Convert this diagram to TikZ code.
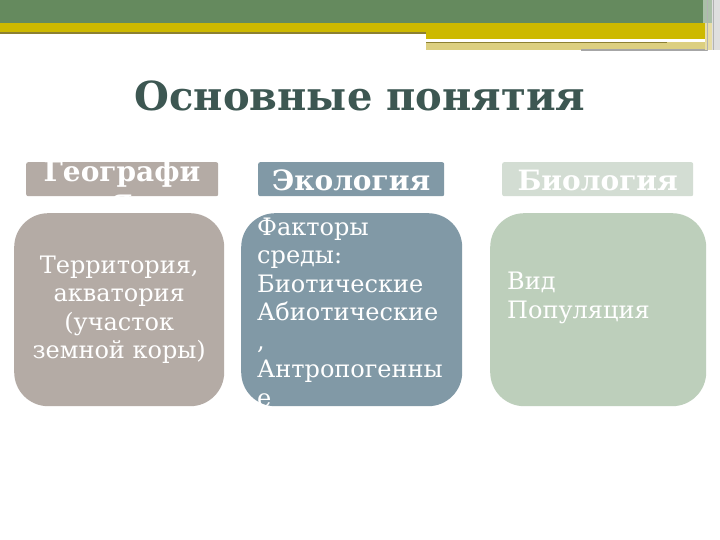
\documentclass[tikz,border=0pt]{standalone}
\usepackage{fontspec}
\setmainfont{DejaVu Serif}
\usepackage{tikz}
\usetikzlibrary{positioning}

\definecolor{bandgreen}{HTML}{658A5E}
\definecolor{bandyellow}{HTML}{CDB900}
\definecolor{bandline}{HTML}{8C8032}
\definecolor{paleyellow}{HTML}{DCCF80}
\definecolor{titlecol}{HTML}{3D5752}
\definecolor{geocol}{HTML}{B4ABA5}
\definecolor{ecocol}{HTML}{8199A6}
\definecolor{biohead}{HTML}{D3DDD3}
\definecolor{biocol}{HTML}{BDCFBB}

\tikzset{
  headbox/.style={rectangle, rounded corners=2pt, minimum width=#1, minimum height=34pt, anchor=north west, inner sep=0pt},
  mainbox/.style={rectangle, rounded corners=34pt, minimum height=193pt, minimum width=#1, anchor=north west, inner sep=0pt},
  headtext/.style={text=white, font=\fontsize{28}{32}\selectfont\bfseries, inner sep=0pt},
  bodytext/.style={text=white, font=\fontsize{24}{28.5}\selectfont, inner sep=0pt}
}

\begin{document}
\begin{tikzpicture}[x=1pt,y=-1pt]
   \useasboundingbox[fill=white] (0,0) rectangle (720,540);
   % top band
   \fill[bandgreen] (0,0) rectangle (703,23);
   \fill[bandyellow] (0,23) rectangle (426,32);
   \fill[bandline] (0,32) rectangle (426,34);
   \fill[bandyellow] (426,23) rectangle (705,39);
   \fill[paleyellow] (426,42) rectangle (707,50);
   \fill[bandline] (426,42) rectangle (667,43.5);
   \fill[gray!70] (581,49.5) rectangle (707,51);
   \fill[bandgreen!55] (703,0) rectangle (712,23);
   \fill[paleyellow!70] (705,23) rectangle (712,50);
   \fill[gray!25] (712,0) rectangle (720,50);
   \draw[gray!60] (707,0) -- (707,51) (713,0) -- (713,50);

   \node[titlecol, font=\fontsize{40}{44}\selectfont\bfseries, anchor=base] (title) at (360,111) {Основные понятия};

   % headers
   \node[headbox=192pt, fill=geocol] (geoHead) at (26,162) {};
   \node[headbox=186pt, fill=ecocol] (ecoHead) at (258,162) {};
   \node[headbox=191pt, fill=biohead] (bioHead) at (502,162) {};
   \node[headtext, anchor=base] (geoText) at (122,182) {Географи};
   \node[headtext, anchor=base] (geoTail) at (122,210) {я};
   \node[headtext, anchor=base] (ecoText) at ([yshift=-11pt]ecoHead.center) {Экология};
   \node[headtext, anchor=base] (bioText) at ([yshift=-11pt]bioHead.center) {Биология};

   % boxes
   \node[mainbox=210pt, fill=geocol] (geoBox) at (14,213) {};
   \node[mainbox=221pt, fill=ecocol] (ecoBox) at (241,213) {};
   \node[mainbox=216pt, fill=biocol] (bioBox) at (490,213) {};

   \node[bodytext, align=center] (geoList) at (geoBox.center) {Территория,\\акватория\\(участок\\земной коры)};
   \node[bodytext, align=left, anchor=base west] (ecoList) at (257,406) {Факторы\\среды:\\Биотические\\Абиотические\\,\\Антропогенны\\е};
   \node[bodytext, align=left, anchor=base west] (bioList) at (507,318) {Вид\\Популяция};
\end{tikzpicture}
\end{document}
